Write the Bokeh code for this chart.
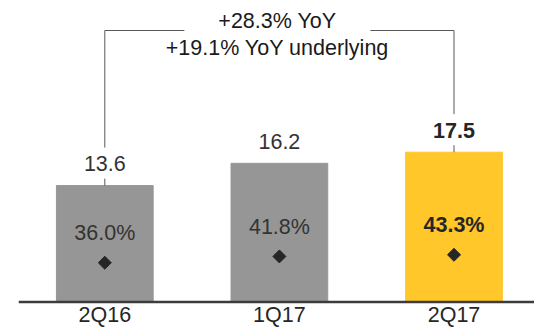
import math
from bokeh.plotting import figure
from bokeh.models import Range1d, Span, ColumnDataSource
from bokeh.core.properties import value
from bokeh.embed import file_html
from bokeh.resources import INLINE

# ---- data ----
categories = ["2Q16", "1Q17", "2Q17"]
revenue = [13.6, 16.2, 17.5]
margin_pct = [36.0, 41.8, 43.3]
value_labels = ["13.6", "16.2", "17.5"]
pct_labels = ["36.0%", "41.8%", "43.3%"]
growth_lines = ["+28.3% YoY", "+19.1% YoY underlying"]

# ---- styles ----
bar_colors = ["#969696", "#969696", "#FFC72A"]
label_styles = ["normal", "normal", "bold"]
label_colors = ["#333333", "#333333", "#262626"]
FONT = value("Liberation Sans")
FS = "21.5px"

# ---- layout (pixels) ----
W, H = 534, 327
LEFT = 18
BASE_PX = 301.5      # pixel row of the zero line
PPU = 8.56           # pixels per revenue unit
PPP = 1.09           # pixels per margin point
X0_PX = 104.3        # centre of first bar
STEP_PX = 174.6      # distance between bar centres
BAR_W = 0.554
BRACKET_TOP_PX = 30
DY = -7.5            # text baseline correction

x_start = -(X0_PX - LEFT) / STEP_PX
x_range = Range1d(x_start, x_start + (W - LEFT) / STEP_PX)
y_start = -(H - BASE_PX) / PPU
y_range = Range1d(y_start, y_start + H / PPU)
p_start = -(H - BASE_PX) / PPP

p = figure(width=W, height=H, x_range=x_range, y_range=y_range,
           x_axis_location=None, y_axis_location=None,
           toolbar_location=None, output_backend="svg",
           min_border_left=LEFT, min_border_right=0,
           min_border_top=0, min_border_bottom=0,
           outline_line_color=None, background_fill_color="white",
           border_fill_color="white")
p.extra_y_ranges = {"pct": Range1d(p_start, p_start + H / PPP)}
p.xgrid.visible = False
p.ygrid.visible = False

idx = list(range(len(categories)))
src = ColumnDataSource(dict(x=idx, cat=categories, rev=revenue, pct=margin_pct,
                            vlab=value_labels, plab=pct_labels,
                            color=bar_colors, style=label_styles,
                            lcolor=label_colors))

p.vbar(x="x", top="rev", bottom=0, width=BAR_W, color="color", source=src)

# margin markers (secondary scale)
p.scatter(x="x", y="pct", y_range_name="pct", marker="square", size=9.2,
          angle=math.pi / 4, color="#262626", source=src)
p.text(x="x", y="pct", text="plab", y_range_name="pct", y_offset=-22.3 + DY,
       text_align="center", text_baseline="alphabetic", text_font=FONT,
       text_font_size=FS, text_font_style="style", text_color="lcolor", source=src)

# value labels
p.text(x="x", y="rev", text="vlab", y_offset=-14.5 + DY,
       text_align="center", text_baseline="alphabetic", text_font=FONT,
       text_font_size=FS, text_font_style="style", text_color="lcolor", source=src)

# category labels
p.text(x="x", y=0, text="cat", y_offset=20.5 + DY, text_align="center",
       text_baseline="alphabetic", text_font=FONT, text_font_size=FS,
       text_color="#262626", source=src)

# growth bracket between first and last bar
def px2y(px):
    return (BASE_PX - px) / PPU

top_y = px2y(BRACKET_TOP_PX)
ends = [0, len(categories) - 1]
xs0, ys0, xs1, ys1 = [], [], [], []
for i in ends:
    v = revenue[i]
    xs0 += [i, i]
    ys0 += [v, v + 38 / PPU]
    xs1 += [i, i]
    ys1 += [v + 7 / PPU, top_y]
mid = (ends[0] + ends[1]) / 2
text_dx = -2
gap = 93
xs0 += [ends[0], mid + (text_dx + gap) / STEP_PX]
ys0 += [top_y, top_y]
xs1 += [mid + (text_dx - gap) / STEP_PX, ends[1]]
ys1 += [top_y, top_y]
p.segment(x0=xs0, y0=ys0, x1=xs1, y1=ys1, line_color="#595959", line_width=1)

p.text(x=[mid], y=[top_y], text=[growth_lines[0]], x_offset=text_dx,
       y_offset=-1.7 + DY, text_align="center", text_baseline="alphabetic",
       text_font=FONT, text_font_size=FS, text_color="#1a1a1a")
p.text(x=[mid], y=[top_y], text=[growth_lines[1]], x_offset=text_dx,
       y_offset=25 + DY, text_align="center", text_baseline="alphabetic",
       text_font=FONT, text_font_size=FS, text_color="#1a1a1a")

p.add_layout(Span(location=0, dimension="width", line_color="#3c3c3c",
                  line_width=2.5))

open("out.html", "w").write(file_html(p, INLINE))
